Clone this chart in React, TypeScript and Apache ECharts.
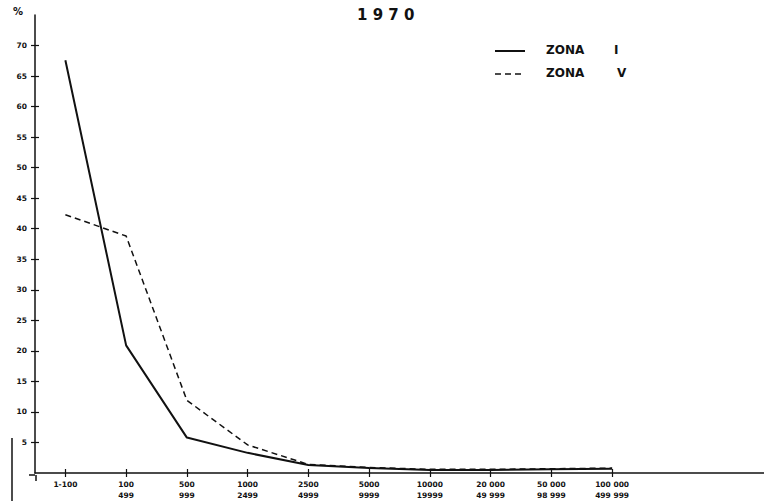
import React, { useEffect, useRef } from "react";
import * as echarts from "echarts";

const rangeStart = ["1-100", "100", "500", "1000", "2500", "5000", "10000", "20 000", "50 000", "100 000"];
const rangeEnd = ["", "499", "999", "2499", "4999", "9999", "19999", "49 999", "98 999", "499 999"];
const padCategories = [" ", "  "];
const zonaI = [67.6, 20.9, 5.8, 3.3, 1.3, 0.8, 0.5, 0.5, 0.6, 0.7];
const zonaV = [42.3, 38.8, 11.9, 4.6, 1.4, 0.9, 0.6, 0.6, 0.7, 0.8];
const yTicks = [5, 10, 15, 20, 25, 30, 35, 40, 45, 50, 55, 60, 65, 70];

const FONT = "DejaVu Sans";

export default function App() {
  const ref = useRef<HTMLDivElement>(null);
  useEffect(() => {
    if (!ref.current) return;
    const chart = echarts.init(ref.current, null, { renderer: "svg" });
    const cats = rangeStart.map((s, i) => (rangeEnd[i] ? s + "\n" + rangeEnd[i] : s)).concat(padCategories);
    const tickInterval = (_i: number, v: string) => v.trim() !== "";
    const baseX = {
      type: "category" as const,
      data: cats,
      boundaryGap: true,
    };
    chart.setOption({
      animation: false,
      backgroundColor: "#ffffff",
      grid: { left: 35, right: -10, top: 15, bottom: 26, containLabel: false },
      xAxis: [
        {
          ...baseX,
          axisLine: { show: true, lineStyle: { color: "#111", width: 1.5 } },
          axisTick: { show: true, alignWithLabel: true, length: 4, interval: tickInterval, lineStyle: { color: "#111", width: 1.2 } },
          axisLabel: {
            show: true,
            interval: 0,
            margin: 6,
            fontFamily: FONT,
            fontWeight: "bold",
            fontSize: 7.5,
            lineHeight: 11,
            color: "#111",
          },
          splitLine: { show: false },
        },
        {
          ...baseX,
          position: "bottom",
          axisLine: { show: false },
          axisTick: { show: true, inside: true, alignWithLabel: true, length: 4, interval: tickInterval, lineStyle: { color: "#111", width: 1.2 } },
          axisLabel: { show: false },
          splitLine: { show: false },
        },
      ],
      yAxis: [
        {
          type: "value",
          min: 0,
          max: 75,
          interval: 5,
          axisLine: { show: true, lineStyle: { color: "#111", width: 1.5 } },
          axisTick: { show: true, length: 4, customValues: yTicks, lineStyle: { color: "#111", width: 1.2 } },
          axisLabel: {
            show: true,
            customValues: yTicks,
            margin: 8,
            fontFamily: FONT,
            fontWeight: "bold",
            fontSize: 7.5,
            color: "#111",
          },
          splitLine: { show: false },
        },
        {
          type: "value",
          min: 0,
          max: 75,
          interval: 5,
          position: "left",
          axisLine: { show: false },
          axisTick: { show: true, inside: true, length: 4, customValues: yTicks, lineStyle: { color: "#111", width: 1.2 } },
          axisLabel: { show: false },
          splitLine: { show: false },
        },
      ],
      series: [
        {
          name: "ZONA I",
          type: "line",
          data: zonaI,
          symbol: "none",
          lineStyle: { color: "#111", width: 2 },
        },
        {
          name: "ZONA V",
          type: "line",
          data: zonaV,
          symbol: "none",
          lineStyle: { color: "#111", width: 1.5, type: [6, 4] },
        },
      ],
      graphic: [
        { type: "text", left: 357, top: 7, style: { text: "1 9 7 0", fontFamily: FONT, fontWeight: "bold", fontSize: 15, fill: "#111" } },
        { type: "text", left: 13, top: 6, style: { text: "%", fontFamily: FONT, fontWeight: "bold", fontSize: 10, fill: "#111" } },
        { type: "line", shape: { x1: 495, y1: 51, x2: 525, y2: 51 }, style: { stroke: "#111", lineWidth: 2 } },
        { type: "text", left: 546, top: 44, style: { text: "ZONA", fontFamily: FONT, fontWeight: "bold", fontSize: 12, fill: "#111" } },
        { type: "text", left: 614, top: 44, style: { text: "I", fontFamily: FONT, fontWeight: "bold", fontSize: 12, fill: "#111" } },
        { type: "line", shape: { x1: 495, y1: 74, x2: 525, y2: 74 }, style: { stroke: "#111", lineWidth: 1.5, lineDash: [6, 4] } },
        { type: "text", left: 546, top: 67, style: { text: "ZONA", fontFamily: FONT, fontWeight: "bold", fontSize: 12, fill: "#111" } },
        { type: "text", left: 617, top: 67, style: { text: "V", fontFamily: FONT, fontWeight: "bold", fontSize: 12, fill: "#111" } },
        { type: "line", shape: { x1: 29, y1: 475, x2: 35, y2: 475 }, style: { stroke: "#111", lineWidth: 1.5 } },
        { type: "line", shape: { x1: 36, y1: 475, x2: 36, y2: 481 }, style: { stroke: "#111", lineWidth: 1.5 } },
        { type: "line", shape: { x1: 12, y1: 438, x2: 12, y2: 501 }, style: { stroke: "#111", lineWidth: 1.5 } },
      ],
    });
    return () => chart.dispose();
  }, []);
  return <div ref={ref} style={{ width: 764, height: 501, position: "absolute", left: 0, top: 0 }} />;
}
